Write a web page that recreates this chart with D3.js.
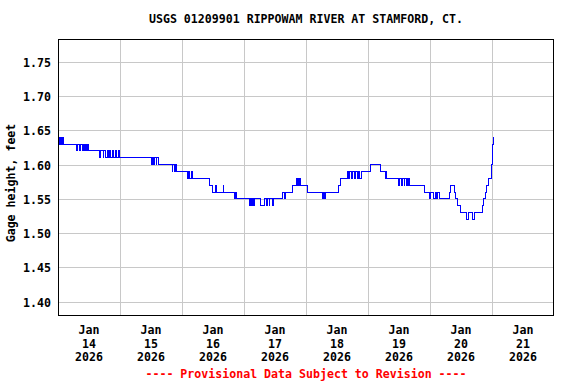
<!DOCTYPE html>
<html>
<head>
<meta charset="utf-8">
<script src="https://cdn.jsdelivr.net/npm/d3@7"></script>
<style>
  body { margin: 0; background: #fff; }
  text { font-family: "DejaVu Sans Mono", "Liberation Mono", monospace; font-weight: bold; }
</style>
</head>
<body>
<div id="chart"></div>
<script>
// gage readings, hours after Jan 14 2026 00:00, value holds until next entry
const hours = [0, 0.75, 1.0, 1.5, 1.75, 2.0, 7.25, 7.5, 8.25, 8.75, 9.5, 9.75, 10.25, 10.5, 11.0, 11.25, 11.75,
  16.0, 16.5, 17.5, 17.75, 18.5, 19.0, 19.5, 20.0, 20.5, 21.0, 21.5, 22.25, 22.75, 23.25, 23.75,
  36.0, 36.5, 37.0, 37.5, 38.0, 38.25, 38.75, 44.25, 44.5, 45.25, 45.5, 46.0,
  50.0, 50.5, 51.0, 51.5, 52.25, 58.75, 59.75, 61.0, 61.25, 64.0, 64.25,
  68.5, 68.75, 69.25, 74.25, 74.5, 75.0, 75.25, 75.75, 76.25, 78.5, 79.75, 80.75, 81.0, 81.75, 82.0, 83.0, 83.25,
  87.0, 87.5, 88.0, 90.75, 92.25, 92.5, 92.75, 93.25, 93.5, 93.75, 96.5,
  102.5, 102.75, 103.25, 103.5, 108.5, 109.5,
  112.0, 112.5, 113.0, 113.5, 114.0, 114.75, 115.0, 115.75, 116.25, 116.75, 117.5,
  121.0, 125.0, 126.75, 127.0, 127.25,
  131.75, 132.0, 133.0, 133.25, 134.0, 134.25, 134.75, 135.25, 135.5, 136.0, 136.25,
  141.75, 143.75, 144.25, 145.5, 146.0, 146.5, 147.0, 147.75,
  151.5, 152.0, 153.5, 154.0, 154.75, 155.75, 158.25, 158.75, 160.5, 161.25,
  164.5, 164.75, 165.5, 166.0, 166.75, 167.75, 168.0, 168.25, 168.5, 168.75];
const gage = [1.64, 1.63, 1.64, 1.63, 1.64, 1.63, 1.62, 1.63, 1.62, 1.63, 1.62, 1.63, 1.62, 1.63, 1.62, 1.63, 1.62,
  1.61, 1.62, 1.61, 1.62, 1.61, 1.62, 1.61, 1.62, 1.61, 1.62, 1.61, 1.62, 1.61, 1.62, 1.61,
  1.60, 1.61, 1.60, 1.61, 1.60, 1.61, 1.60, 1.59, 1.60, 1.59, 1.60, 1.59,
  1.58, 1.59, 1.58, 1.59, 1.58, 1.57, 1.56, 1.57, 1.56, 1.57, 1.56,
  1.55, 1.56, 1.55, 1.54, 1.55, 1.54, 1.55, 1.54, 1.55, 1.54, 1.55, 1.54, 1.55, 1.54, 1.55, 1.54, 1.55,
  1.56, 1.55, 1.56, 1.57, 1.58, 1.57, 1.58, 1.57, 1.58, 1.57, 1.56,
  1.55, 1.56, 1.55, 1.56, 1.57, 1.58,
  1.59, 1.58, 1.59, 1.58, 1.59, 1.58, 1.59, 1.58, 1.59, 1.58, 1.59,
  1.60, 1.59, 1.58, 1.59, 1.58,
  1.57, 1.58, 1.57, 1.58, 1.57, 1.58, 1.57, 1.58, 1.57, 1.58, 1.57,
  1.56, 1.55, 1.56, 1.55, 1.56, 1.55, 1.56, 1.55,
  1.56, 1.57, 1.56, 1.55, 1.54, 1.53, 1.52, 1.53, 1.52, 1.53,
  1.54, 1.55, 1.56, 1.57, 1.58, 1.60, 1.61, 1.63, 1.64, 1.64];

const yTicks = [1.40, 1.45, 1.50, 1.55, 1.60, 1.65, 1.70, 1.75];
const dayLabels = ["14", "15", "16", "17", "18", "19", "20", "21"];
const title = "USGS 01209901 RIPPOWAM RIVER AT STAMFORD, CT.";
const yLabel = "Gage height, feet";
const note = "---- Provisional Data Subject to Revision ----";

const width = 576, height = 384;
const margin = {top: 39, right: 22, bottom: 68, left: 58};

let svg = d3.select("#chart").append("svg")
    .attr("width", width)
    .attr("height", height)
    .style("background", "#fff");

const start = new Date(2026, 0, 14);
const end = new Date(2026, 0, 22);
let x = d3.scaleTime()
    .domain([start, end])
    .range([margin.left, width - margin.right]);
let y = d3.scaleLinear()
    .domain([1.3791, 1.7834])
    .range([height - margin.bottom, margin.top]);

let data = hours.map((h, i) => ({t: d3.timeMinute.offset(start, h * 60), v: gage[i]}));

const px = v => Math.round(v) + 0.5;

// grid
let grid = svg.append("g").attr("stroke", "#c8c8c8").attr("stroke-width", 1).attr("shape-rendering", "crispEdges");
d3.timeDay.range(d3.timeDay.offset(start, 1), end).forEach(d => {
    grid.append("line")
        .attr("x1", px(x(d))).attr("x2", px(x(d)))
        .attr("y1", margin.top).attr("y2", height - margin.bottom);
});
yTicks.forEach(t => {
    grid.append("line")
        .attr("x1", margin.left).attr("x2", width - margin.right)
        .attr("y1", px(y(t))).attr("y2", px(y(t)));
});

// data line
let line = d3.line()
    .x(d => x(d.t))
    .y(d => y(d.v))
    .curve(d3.curveStepAfter);
svg.append("path")
    .datum(data)
    .attr("fill", "none")
    .attr("stroke", "#0000ff")
    .attr("stroke-width", 1)
    .attr("shape-rendering", "crispEdges")
    .attr("d", line);

// frame
svg.append("rect")
    .attr("x", margin.left + 0.5).attr("y", margin.top + 0.5)
    .attr("width", width - margin.left - margin.right - 1)
    .attr("height", height - margin.top - margin.bottom - 1)
    .attr("fill", "none").attr("stroke", "#000").attr("stroke-width", 1)
    .attr("shape-rendering", "crispEdges");

// y tick labels
svg.append("g").selectAll("text")
    .data(yTicks)
    .enter().append("text")
    .attr("x", 51)
    .attr("y", d => px(y(d)) + 4)
    .attr("text-anchor", "end")
    .attr("font-size", 11.6)
    .text(d => d.toFixed(2));

// x tick labels at noon of each day
let days = d3.timeDay.range(start, end);
let xl = svg.append("g").selectAll("text")
    .data(days)
    .enter().append("text")
    .attr("text-anchor", "middle")
    .attr("font-size", 11.6)
    .attr("x", d => x(d3.timeHour.offset(d, 12)))
    .attr("y", 334);
xl.append("tspan").text("Jan");
xl.append("tspan").attr("x", d => x(d3.timeHour.offset(d, 12))).attr("dy", 13.5).text((d, i) => dayLabels[i]);
xl.append("tspan").attr("x", d => x(d3.timeHour.offset(d, 12))).attr("dy", 13.5).text("2026");

// title
svg.append("text")
    .attr("x", (margin.left + width - margin.right) / 2)
    .attr("y", 23)
    .attr("text-anchor", "middle")
    .attr("font-size", 11.6)
    .text(title);

// y label
svg.append("text")
    .attr("transform", "translate(15,183) rotate(-90)")
    .attr("text-anchor", "middle")
    .attr("font-size", 11.6)
    .text(yLabel);

// provisional note
svg.append("text")
    .attr("x", (margin.left + width - margin.right) / 2)
    .attr("y", 378)
    .attr("text-anchor", "middle")
    .attr("font-size", 11.6)
    .attr("fill", "#ff0000")
    .text(note);
</script>
</body>
</html>
